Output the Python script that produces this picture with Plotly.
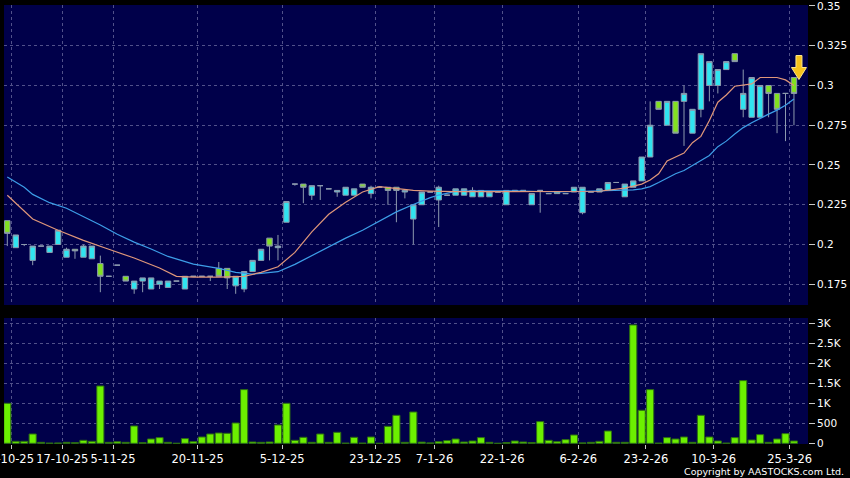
import plotly.graph_objects as go

# ---------------- data ----------------
opens = [0.215, 0.198, 0.200, 0.190, 0.199, 0.195, 0.200, 0.192, 0.197, 0.192,
         0.191, 0.188, 0.180, 0.187, 0.180, 0.172, 0.177, 0.172, 0.175, 0.173,
         0.177, 0.172, 0.180, 0.180, 0.180, 0.185, 0.185, 0.174, 0.172, 0.183,
         0.190, 0.204, 0.198, 0.214, 0.238, 0.238, 0.231, 0.237, 0.235, 0.233,
         0.231, 0.231, 0.238, 0.232, 0.236, 0.236, 0.236, 0.233, 0.216, 0.225,
         0.233, 0.228, 0.231, 0.231, 0.231, 0.230, 0.230, 0.230, 0.233, 0.225,
         0.234, 0.234, 0.225, 0.234, 0.232, 0.233, 0.232, 0.233, 0.220, 0.233,
         0.233, 0.234, 0.239, 0.230, 0.236, 0.240, 0.255, 0.290, 0.275, 0.290,
         0.290, 0.270, 0.285, 0.300, 0.300, 0.310, 0.320, 0.285, 0.280, 0.280,
         0.300, 0.295, 0.295, 0.305]
highs = [0.215, 0.206, 0.200, 0.199, 0.199, 0.199, 0.209, 0.198, 0.197, 0.200,
         0.199, 0.193, 0.180, 0.187, 0.180, 0.177, 0.179, 0.179, 0.177, 0.177,
         0.177, 0.180, 0.180, 0.180, 0.180, 0.189, 0.185, 0.180, 0.183, 0.190,
         0.197, 0.204, 0.206, 0.227, 0.238, 0.238, 0.237, 0.237, 0.235, 0.234,
         0.236, 0.235, 0.238, 0.237, 0.236, 0.236, 0.236, 0.234, 0.225, 0.233,
         0.233, 0.237, 0.231, 0.235, 0.235, 0.236, 0.234, 0.233, 0.233, 0.234,
         0.234, 0.234, 0.232, 0.234, 0.232, 0.233, 0.232, 0.236, 0.236, 0.233,
         0.235, 0.239, 0.239, 0.238, 0.240, 0.255, 0.290, 0.290, 0.290, 0.290,
         0.300, 0.285, 0.320, 0.315, 0.310, 0.315, 0.320, 0.310, 0.305, 0.300,
         0.300, 0.295, 0.295, 0.305]
lows = [0.199, 0.198, 0.199, 0.187, 0.199, 0.195, 0.200, 0.192, 0.191, 0.192,
        0.191, 0.170, 0.180, 0.187, 0.177, 0.169, 0.170, 0.172, 0.172, 0.173,
        0.177, 0.172, 0.180, 0.180, 0.177, 0.180, 0.172, 0.169, 0.170, 0.183,
        0.190, 0.190, 0.190, 0.214, 0.237, 0.226, 0.228, 0.228, 0.235, 0.230,
        0.231, 0.231, 0.236, 0.229, 0.236, 0.225, 0.214, 0.229, 0.200, 0.225,
        0.233, 0.211, 0.231, 0.231, 0.231, 0.230, 0.230, 0.230, 0.233, 0.225,
        0.234, 0.234, 0.225, 0.220, 0.232, 0.232, 0.232, 0.233, 0.219, 0.233,
        0.233, 0.234, 0.239, 0.230, 0.236, 0.240, 0.255, 0.285, 0.275, 0.270,
        0.262, 0.270, 0.280, 0.290, 0.295, 0.310, 0.315, 0.280, 0.280, 0.280,
        0.280, 0.270, 0.265, 0.275]
closes = [0.207, 0.206, 0.200, 0.199, 0.199, 0.199, 0.209, 0.197, 0.196, 0.199,
          0.199, 0.180, 0.180, 0.187, 0.177, 0.177, 0.179, 0.179, 0.177, 0.177,
          0.177, 0.180, 0.180, 0.180, 0.180, 0.180, 0.179, 0.180, 0.183, 0.190,
          0.197, 0.199, 0.199, 0.227, 0.238, 0.236, 0.237, 0.237, 0.235, 0.234,
          0.236, 0.235, 0.236, 0.236, 0.236, 0.234, 0.234, 0.234, 0.225, 0.233,
          0.233, 0.236, 0.231, 0.235, 0.235, 0.234, 0.234, 0.233, 0.233, 0.234,
          0.234, 0.234, 0.232, 0.234, 0.232, 0.232, 0.232, 0.236, 0.236, 0.233,
          0.235, 0.239, 0.239, 0.238, 0.240, 0.255, 0.275, 0.285, 0.290, 0.270,
          0.295, 0.285, 0.320, 0.315, 0.310, 0.315, 0.315, 0.295, 0.305, 0.300,
          0.295, 0.285, 0.295, 0.295]
volumes = [1000, 50, 50, 233, 25, 5, 8, 25, 15, 75,
           50, 1433, 25, 40, 25, 433, 15, 108, 142, 25,
           0, 117, 42, 158, 233, 258, 250, 508, 1342, 33,
           25, 33, 458, 1000, 75, 150, 25, 233, 25, 275,
           5, 150, 5, 158, 0, 425, 700, 25, 783, 30,
           10, 40, 67, 108, 33, 58, 142, 25, 0, 20,
           58, 33, 20, 542, 75, 42, 92, 208, 10, 25,
           50, 308, 25, 25, 2958, 825, 1342, 5, 142, 108,
           158, 25, 700, 158, 58, 5, 142, 1567, 83, 217,
           25, 108, 242, 58]

# moving averages (candle index, value)
ma_short_idx = [0, 3, 6, 9, 12, 15, 18, 20, 22, 25, 28, 30, 32, 34, 36, 38, 40,
                42, 44, 46, 48, 50, 53, 58, 65, 70, 73, 75, 76, 77, 78, 80, 81,
                82, 83, 84, 85, 86, 88, 89, 91, 92, 93]
ma_short_val = [0.231, 0.216, 0.209, 0.2026, 0.197, 0.1915, 0.1852, 0.1800,
                0.1795, 0.1795, 0.1800, 0.1825, 0.1860, 0.1950, 0.2080, 0.2190,
                0.2265, 0.2330, 0.2364, 0.2353, 0.2340, 0.2336, 0.2332, 0.2332,
                0.2332, 0.2335, 0.2355, 0.2380, 0.2405, 0.2445, 0.2525, 0.2575,
                0.2640, 0.2680, 0.2780, 0.2895, 0.2940, 0.2995, 0.3010, 0.3050,
                0.3050, 0.3035, 0.3000]
ma_long_idx = [0, 2, 3, 5, 7, 9, 11, 13, 15, 17, 19, 22, 25, 27, 29, 30, 31, 32,
               34, 36, 38, 40, 42, 44, 46, 48, 50, 51, 53, 56, 60, 65, 70, 74,
               75, 76, 77, 78, 79, 80, 81, 82, 83, 84, 85, 86, 87, 88, 89, 90,
               91, 92, 93]
ma_long_val = [0.2425, 0.2360, 0.2315, 0.2263, 0.2228, 0.2175, 0.2123, 0.2064,
               0.2015, 0.1972, 0.1925, 0.1877, 0.1850, 0.1825, 0.1814, 0.1818,
               0.1825, 0.1829, 0.1875, 0.1930, 0.1986, 0.2040, 0.2090, 0.2145,
               0.2205, 0.2252, 0.2295, 0.2311, 0.2334, 0.2338, 0.2338, 0.2330,
               0.2335, 0.2343, 0.2350, 0.2364, 0.2390, 0.2420, 0.2445, 0.2465,
               0.2495, 0.2525, 0.2560, 0.2615, 0.2650, 0.2695, 0.2735, 0.2765,
               0.2795, 0.2820, 0.2845, 0.2875, 0.2915]

tick_idx = [0, 6, 12, 22, 32, 43, 50, 58, 67, 75, 83, 92]
tick_labels = ["9-10-25", "17-10-25", "5-11-25", "20-11-25", "5-12-25",
               "23-12-25", "7-1-26", "22-1-26", "6-2-26", "23-2-26",
               "10-3-26", "25-3-26"]

price_ticks = [0.175, 0.2, 0.225, 0.25, 0.275, 0.3, 0.325, 0.35]
price_tick_text = ["0.175", "0.2", "0.225", "0.25", "0.275", "0.3", "0.325", "0.35"]
vol_ticks = [0, 500, 1000, 1500, 2000, 2500, 3000]
vol_tick_text = ["0", "500", "1K", "1.5K", "2K", "2.5K", "3K"]

# ---------------- figure ----------------
idx = list(range(len(opens)))
grid_x = [t + 0.5 for t in tick_idx]

GRID = "#51518a"
FONT = "DejaVu Sans"

fig = go.Figure()
fig.add_trace(go.Candlestick(
    x=idx, open=opens, high=highs, low=lows, close=closes,
    increasing=dict(fillcolor="#30e4f0", line=dict(color="#8d9aae", width=1)),
    decreasing=dict(fillcolor="#82e020", line=dict(color="#8d9aae", width=1)),
    whiskerwidth=0, xaxis="x", yaxis="y", showlegend=False, hoverinfo="skip"))
fig.add_trace(go.Scatter(x=ma_long_idx, y=ma_long_val, mode="lines",
                         line=dict(color="#3d9ee8", width=1.2),
                         xaxis="x", yaxis="y", showlegend=False, hoverinfo="skip"))
fig.add_trace(go.Scatter(x=ma_short_idx, y=ma_short_val, mode="lines",
                         line=dict(color="#e0977a", width=1.2),
                         xaxis="x", yaxis="y", showlegend=False, hoverinfo="skip"))
fig.add_trace(go.Bar(x=idx, y=volumes, width=0.84,
                     marker=dict(color="#6cf000", line=dict(color="#2d6e12", width=1)),
                     xaxis="x2", yaxis="y2", showlegend=False, hoverinfo="skip"))

axis_common = dict(showgrid=True, gridcolor=GRID, griddash="3px,3px", gridwidth=1,
                   zeroline=False, showline=False, automargin=False)

fig.update_layout(
    width=850, height=478,
    paper_bgcolor="#000000", plot_bgcolor="#00004a",
    margin=dict(l=4, r=42, t=5, b=34),
    boxgap=0.2, boxgroupgap=0.2,
    showlegend=False,
    xaxis=dict(domain=[0, 1], anchor="y", range=[-0.39, 94.66],
               tickmode="array", tickvals=grid_x, showticklabels=False, ticks="",
               rangeslider=dict(visible=False), **axis_common),
    yaxis=dict(domain=[0.3166, 1], anchor="x", side="right", range=[0.16195, 0.3506],
               tickmode="array", tickvals=price_ticks, ticktext=price_tick_text,
               ticks="outside", ticklen=6, tickcolor="#c8c8c8",
               ticklabeloverflow="allow",
               tickfont=dict(family=FONT, size=10.5, color="white"), **axis_common),
    xaxis2=dict(domain=[0, 1], anchor="y2", matches="x", range=[-0.39, 94.66],
                tickmode="array", tickvals=grid_x, ticktext=tick_labels,
                ticks="outside", ticklen=4, tickcolor="#c8c8c8",
                ticklabeloverflow="allow",
                tickfont=dict(family=FONT, size=11.5, color="white"), **axis_common),
    yaxis2=dict(domain=[0, 0.287], anchor="x2", side="right", range=[-17, 3132],
                tickmode="array", tickvals=vol_ticks, ticktext=vol_tick_text,
                ticks="outside", ticklen=6, tickcolor="#c8c8c8",
                ticklabeloverflow="allow",
                tickfont=dict(family=FONT, size=10.5, color="white"), **axis_common),
)

# yellow marker arrow above the latest candle (pixel-sized path anchored to the candle)
fig.add_shape(type="path", xref="x", yref="y",
              xsizemode="pixel", ysizemode="pixel",
              xanchor=idx[-1], yanchor=highs[-1],
              path="M 5,-2 L 12.5,10 L 8,10 L 8,22 L 2,22 L 2,10 L -2.5,10 Z",
              fillcolor="#f6c21c", line=dict(color="#ffe88a", width=1), layer="above")

fig.add_annotation(text="Copyright by AASTOCKS.com Ltd.", xref="paper", yref="paper",
                   x=1, y=0, xanchor="right", yanchor="middle", xshift=38, yshift=-27,
                   showarrow=False, font=dict(family=FONT, size=9.5, color="white"))

# remove the browser's default 8px body margin so the figure sits at the page corner
fig.write_html("out.html", config={"displayModeBar": False},
               post_script="document.body.style.margin='0px';")
